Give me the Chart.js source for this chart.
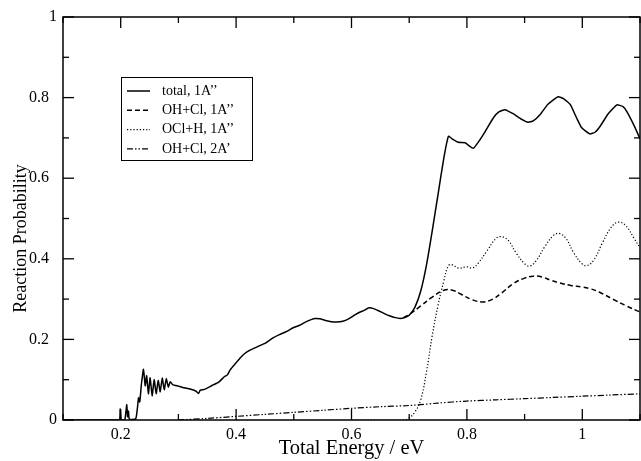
<!DOCTYPE html>
<html><head><meta charset="utf-8">
<script src="https://cdn.jsdelivr.net/npm/chart.js@4/dist/chart.umd.min.js"></script>
<style>html,body{margin:0;padding:0;background:#fff}canvas{display:block}</style>
</head><body>
<canvas id="c" width="641" height="461" style="width:641px;height:461px"></canvas>
<script>
// ---- data ----
const totalE = [0.10,0.197,0.199,0.201,0.207,0.209,0.2105,0.212,0.2135,0.215,0.226,0.229,0.231,0.233,0.236,0.2395,0.2425,0.245,0.248,0.251,0.2545,0.258,0.2615,0.265,0.2685,0.272,0.2755,0.279,0.2825,0.286,0.29,0.30,0.31,0.32,0.33,0.335,0.338,0.345,0.355,0.36,0.37,0.38,0.385,0.39,0.40,0.407,0.415,0.425,0.44,0.45,0.464,0.475,0.488,0.499,0.51,0.52,0.53,0.537,0.545,0.555,0.565,0.574,0.585,0.595,0.605,0.615,0.622,0.629,0.637,0.647,0.657,0.667,0.676,0.684,0.692,0.70,0.71,0.72,0.73,0.74,0.75,0.76,0.768,0.775,0.785,0.797,0.804,0.811,0.82,0.83,0.846,0.856,0.866,0.88,0.895,0.906,0.915,0.927,0.94,0.958,0.968,0.979,0.99,0.999,1.013,1.022,1.031,1.045,1.06,1.07,1.077,1.09,1.10];
const totalP = [0,0,0.028,0,0,0.02,0.038,0.008,0.022,0.002,0.003,0.03,0.055,0.045,0.09,0.126,0.085,0.11,0.065,0.105,0.06,0.10,0.065,0.098,0.07,0.104,0.075,0.102,0.082,0.095,0.088,0.084,0.08,0.077,0.072,0.066,0.074,0.076,0.083,0.087,0.094,0.108,0.112,0.125,0.142,0.154,0.165,0.174,0.184,0.19,0.204,0.212,0.22,0.229,0.235,0.243,0.249,0.252,0.251,0.247,0.244,0.243,0.245,0.251,0.26,0.268,0.272,0.278,0.277,0.271,0.264,0.258,0.254,0.252,0.254,0.26,0.28,0.32,0.385,0.47,0.56,0.65,0.704,0.697,0.689,0.688,0.68,0.674,0.69,0.712,0.75,0.765,0.77,0.76,0.746,0.739,0.742,0.758,0.783,0.802,0.797,0.783,0.75,0.725,0.71,0.714,0.729,0.76,0.782,0.778,0.766,0.73,0.698];

const ohcl1E = [0.69,0.70,0.72,0.74,0.76,0.775,0.79,0.81,0.828,0.845,0.86,0.88,0.90,0.915,0.93,0.945,0.961,0.98,1.0,1.013,1.03,1.054,1.075,1.10];
const ohcl1P = [0.254,0.262,0.283,0.305,0.322,0.322,0.312,0.298,0.293,0.30,0.315,0.338,0.352,0.357,0.355,0.347,0.340,0.334,0.330,0.326,0.317,0.299,0.284,0.268];

const oclhE = [0.60,0.69,0.70,0.71,0.72,0.73,0.74,0.75,0.76,0.768,0.775,0.785,0.80,0.81,0.82,0.835,0.85,0.86,0.872,0.885,0.90,0.909,0.92,0.935,0.95,0.96,0.972,0.985,1.0,1.008,1.02,1.035,1.05,1.062,1.075,1.09,1.10];
const oclhP = [0,0,0.005,0.02,0.05,0.12,0.21,0.285,0.345,0.383,0.385,0.377,0.38,0.377,0.39,0.42,0.45,0.455,0.445,0.415,0.388,0.382,0.395,0.43,0.458,0.463,0.45,0.415,0.387,0.383,0.397,0.44,0.478,0.491,0.483,0.45,0.427];

const ohcl2E = [0.30,0.35,0.40,0.45,0.50,0.55,0.60,0.65,0.70,0.75,0.80,0.85,0.90,0.95,1.00,1.05,1.10];
const ohcl2P = [0,0.004,0.009,0.014,0.019,0.024,0.029,0.033,0.036,0.042,0.047,0.050,0.053,0.056,0.059,0.062,0.065];

const seriesNames = ['total, 1A\u2019\u2019','OH+Cl, 1A\u2019\u2019','OCl+H, 1A\u2019\u2019','OH+Cl, 2A\u2019'];
const xMajor = [0.2,0.4,0.6,0.8,1.0];
const xMajorLabels = ['0.2','0.4','0.6','0.8','1'];
const xMinor = [0.1,0.3,0.5,0.7,0.9,1.1];
const yMajor = [0,0.2,0.4,0.6,0.8,1.0];
const yMajorLabels = ['0','0.2  ','0.4  ','0.6  ','0.8  ','1'];
const yMinor = [0.1,0.3,0.5,0.7,0.9];
const xTitle = 'Total Energy / eV';
const yTitle = 'Reaction Probability';

const pts = (xs, ys) => xs.map((v, i) => ({x: v, y: ys[i]}));
const SERIF = "'Liberation Serif', 'Times New Roman', serif";

const framePlugin = {
  id: 'frame',
  afterDraw(chart) {
    const {ctx, chartArea: a, scales: {x, y}} = chart;
    ctx.save();
    ctx.strokeStyle = '#000';
    ctx.setLineDash([]);
    ctx.lineWidth = 1.5;
    ctx.strokeRect(a.left, a.top, a.right - a.left, a.bottom - a.top);
    ctx.lineWidth = 1.3;
    const seg = (x1, y1, x2, y2) => { ctx.beginPath(); ctx.moveTo(x1, y1); ctx.lineTo(x2, y2); ctx.stroke(); };
    const tick = (list, len) => {
      list.forEach(v => { const p = x.getPixelForValue(v); seg(p, a.bottom, p, a.bottom - len); seg(p, a.top, p, a.top + len); });
    };
    const ytick = (list, len) => {
      list.forEach(v => { const p = y.getPixelForValue(v); seg(a.left, p, a.left + len, p); seg(a.right, p, a.right - len, p); });
    };
    tick(xMajor, 11); tick(xMinor, 6); ytick(yMajor, 11); ytick(yMinor, 6);

    // y title
    ctx.fillStyle = '#000';
    ctx.font = '18px ' + SERIF;
    ctx.textAlign = 'center';
    ctx.textBaseline = 'alphabetic';
    ctx.translate(26, (a.top + a.bottom) / 2 + 20);
    ctx.rotate(-Math.PI / 2);
    ctx.fillText(yTitle, 0, 0);
    ctx.restore();

    // legend
    ctx.save();
    const bx = a.left + 58, by = a.top + 60, bw = 131, bh = 83;
    ctx.strokeStyle = '#000';
    ctx.lineWidth = 1;
    ctx.strokeRect(bx + 0.5, by + 0.5, bw, bh);
    ctx.font = '14px ' + SERIF;
    ctx.fillStyle = '#000';
    ctx.textAlign = 'left';
    ctx.textBaseline = 'middle';
    chart.data.datasets.forEach((ds, i) => {
      const ry = by + 14 + i * 19.3;
      ctx.setLineDash(ds.borderDash || []);
      ctx.lineWidth = ds.borderWidth;
      ctx.beginPath(); ctx.moveTo(bx + 6, ry); ctx.lineTo(bx + 29, ry); ctx.stroke();
      ctx.setLineDash([]);
      ctx.fillText(ds.label, bx + 41, ry);
    });
    ctx.restore();
  }
};

new Chart(document.getElementById('c'), {
  type: 'line',
  data: {
    datasets: [
      {label: seriesNames[0], data: pts(totalE, totalP), borderColor: '#000', borderWidth: 1.5, tension: 0.15},
      {label: seriesNames[1], data: pts(ohcl1E, ohcl1P), borderColor: '#000', borderWidth: 1.5, borderDash: [5, 3], tension: 0.4},
      {label: seriesNames[2], data: pts(oclhE, oclhP), borderColor: '#000', borderWidth: 1.2, borderDash: [1.2, 2], tension: 0.4},
      {label: seriesNames[3], data: pts(ohcl2E, ohcl2P), borderColor: '#000', borderWidth: 1.2, borderDash: [6, 2, 1.5, 2, 1.5, 2], tension: 0.3}
    ]
  },
  options: {
    responsive: false,
    animation: false,
    devicePixelRatio: 1,
    elements: {point: {radius: 0}},
    layout: {padding: {top: 17, right: 1, left: 0, bottom: 0}},
    plugins: {legend: {display: false}, tooltip: {enabled: false}},
    scales: {
      x: {
        type: 'linear', min: 0.1, max: 1.1,
        afterBuildTicks: s => { s.ticks = xMajor.map(v => ({value: v})); },
        afterFit: s => { s.height = 41; },
        grid: {display: false, drawTicks: false},
        border: {display: false},
        ticks: {color: '#000', padding: 5, maxRotation: 0, autoSkip: false, font: {family: SERIF, size: 16},
          callback: (v, i) => xMajorLabels[i]},
        title: {display: true, text: xTitle, color: '#000', font: {family: SERIF, size: 20.5}, padding: {top: 0, bottom: 0}}
      },
      y: {
        type: 'linear', min: 0, max: 1,
        afterBuildTicks: s => { s.ticks = yMajor.map(v => ({value: v})); },
        afterFit: s => { s.width = 63; },
        grid: {display: false, drawTicks: false},
        border: {display: false},
        ticks: {color: '#000', padding: 6, autoSkip: false, font: {family: SERIF, size: 16},
          callback: (v, i) => yMajorLabels[i]}
      }
    }
  },
  plugins: [framePlugin]
});
</script>
</body></html>
